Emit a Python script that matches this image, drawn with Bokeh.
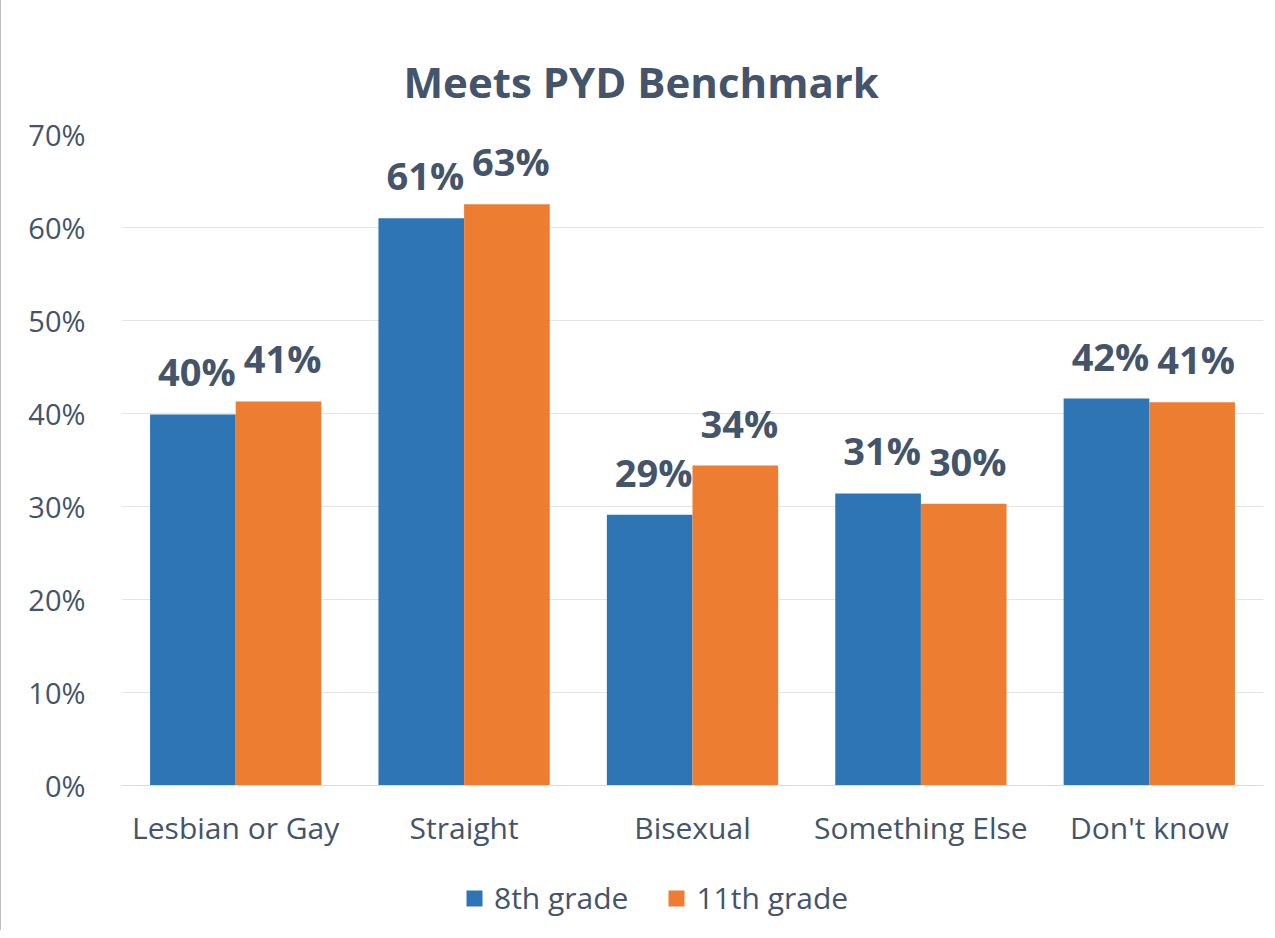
from bokeh.plotting import figure
from bokeh.models import (FactorRange, NumeralTickFormatter, Legend, LegendItem,
                          FixedTicker, Title)
from bokeh.layouts import column
from bokeh.transform import dodge
from bokeh.core.properties import value
from bokeh.embed import file_html
from bokeh.resources import INLINE

categories = ["Lesbian or Gay", "Straight", "Bisexual", "Something Else", "Don't know"]
grade8 = [0.399, 0.610, 0.291, 0.314, 0.416]
grade11 = [0.413, 0.625, 0.344, 0.303, 0.412]
labels8 = ["40%", "61%", "29%", "31%", "42%"]
labels11 = ["41%", "63%", "34%", "30%", "41%"]
series_names = ["8th grade", "11th grade"]
y_ticks = [0, 0.1, 0.2, 0.3, 0.4, 0.5, 0.6, 0.7]

BLUE = "#2E75B6"
ORANGE = "#ED7D31"
TXT = "#44546A"
FONT = "Open Sans"

src = dict(cat=categories, g8=grade8, g11=grade11, l8=labels8, l11=labels11)

p = figure(x_range=FactorRange(*categories), y_range=(0, 0.7),
           width=1270, height=860, output_backend="svg", toolbar_location=None,
           min_border_left=120, min_border_right=8, min_border_top=134, min_border_bottom=75)
p.title = Title(text="Meets PYD Benchmark", align="left", offset=282, text_font=FONT,
                text_font_size="42px", text_font_style="bold", text_color=TXT, standoff=49)

p.vbar(x=dodge("cat", -0.1875, range=p.x_range), top="g8", width=0.375,
       source=src, color=BLUE, line_color=None)
p.vbar(x=dodge("cat", 0.1875, range=p.x_range), top="g11", width=0.375,
       source=src, color=ORANGE, line_color=None)

p.text(x=dodge("cat", -0.1875, range=p.x_range), y="g8", text="l8", source=src,
       text_align="center", text_baseline="alphabetic", y_offset=-43, x_offset=4,
       text_font=value(FONT), text_font_size="38px", text_font_style="bold", text_color=TXT)
p.text(x=dodge("cat", 0.1875, range=p.x_range), y="g11", text="l11", source=src,
       text_align="center", text_baseline="alphabetic", y_offset=-43, x_offset=4,
       text_font=value(FONT), text_font_size="38px", text_font_style="bold", text_color=TXT)

p.outline_line_color = None
p.xgrid.grid_line_color = None
p.ygrid.grid_line_color = "#E4E4E4"
p.ygrid.grid_line_width = 1

p.yaxis.ticker = FixedTicker(ticks=y_ticks)
p.yaxis.formatter = NumeralTickFormatter(format="0%")
p.yaxis.axis_line_color = None
p.yaxis.major_tick_line_color = None
p.yaxis.minor_tick_line_color = None
p.yaxis.major_label_text_font = FONT
p.yaxis.major_label_text_font_size = "29px"
p.yaxis.major_label_text_color = TXT
p.yaxis.major_label_standoff = 30

p.xaxis.axis_line_color = "#D6DCE5"
p.xaxis.major_tick_line_color = None
p.xaxis.minor_tick_line_color = None
p.xaxis.major_label_text_font = FONT
p.xaxis.major_label_text_font_size = "30px"
p.xaxis.major_label_text_color = TXT
p.xaxis.major_label_standoff = 15
p.styles = {"border-left": "1px solid #BFBFBF"}

# legend strip below the chart (its bars sit outside the visible range)
lf = figure(x_range=FactorRange(*categories), y_range=(10, 11),
            width=1270, height=70, output_backend="svg", toolbar_location=None,
            min_border_left=0, min_border_right=0, min_border_top=0, min_border_bottom=0)
lf.axis.visible = False
lf.grid.visible = False
lf.outline_line_color = None
lr8 = lf.vbar(x="cat", top="g8", width=0.375, source=src, color=BLUE, line_color=None)
lr11 = lf.vbar(x="cat", top="g11", width=0.375, source=src, color=ORANGE, line_color=None)
legend = Legend(items=[LegendItem(label=series_names[0], renderers=[lr8]),
                       LegendItem(label=series_names[1], renderers=[lr11])],
                orientation="horizontal", location=(343, 12),
                label_text_font=FONT, label_text_font_size="30px", label_text_color=TXT,
                glyph_width=20, glyph_height=20, label_standoff=10, spacing=38,
                padding=0, margin=0, border_line_alpha=0, background_fill_alpha=0)
lf.add_layout(legend, "center")
lf.styles = {"border-left": "1px solid #BFBFBF"}

layout = column(p, lf, spacing=0)
open("out.html", "w").write(file_html(layout, INLINE))
